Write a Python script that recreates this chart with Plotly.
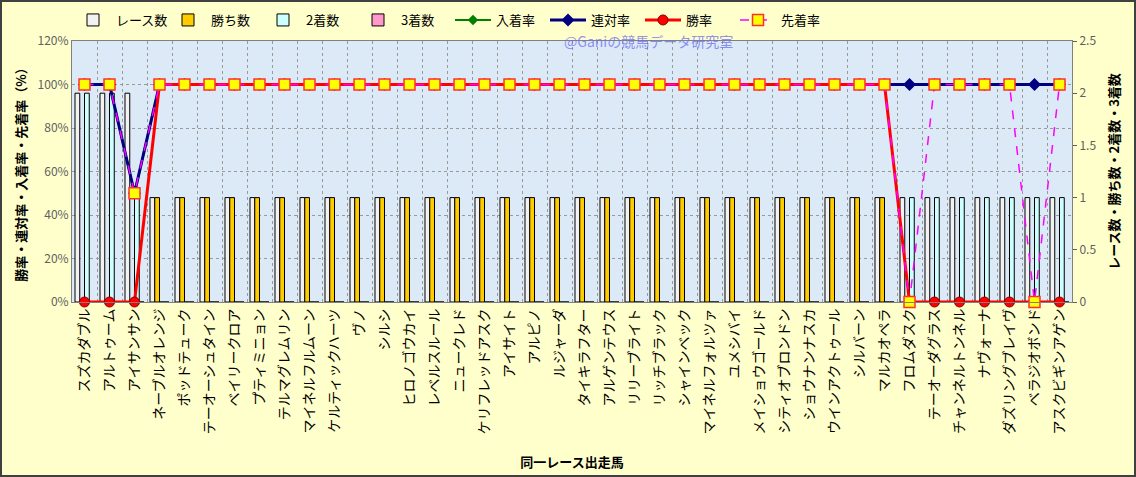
import plotly.graph_objects as go

horses = ["スズカダブル", "アルトゥーム", "アイサンサン", "ネーブルオレンジ", "ポッドテューク",
          "テーオーシュタイン", "ベイリークロア", "プティミニョン", "テルマグレムリン", "マイネルフルムーン",
          "ケルティックハーツ", "ヴノ", "シルシ", "ヒロノゴウカイ", "レベルスルール",
          "ニュークレド", "ケリフレッドアスク", "アイサイト", "アルピノ", "ルジャーダ",
          "タイキラフター", "アルゲンテウス", "リリーブライト", "リッチブラック", "シャインベック",
          "マイネルフォルツァ", "ユメシバイ", "メイショウゴールド", "シティオブロンドン", "ショウナンナスカ",
          "ウインアクトゥール", "シルバーン", "マルカオペラ", "フロムダスク", "テーオーダグラス",
          "チャンネルトンネル", "ナヴォーナ", "ダズリングブレイヴ", "ベラジオボンド", "アスクビギンアゲン"]

races   = [2, 2, 2, 1, 1, 1, 1, 1, 1, 1, 1, 1, 1, 1, 1, 1, 1, 1, 1, 1,
           1, 1, 1, 1, 1, 1, 1, 1, 1, 1, 1, 1, 1, 1, 1, 1, 1, 1, 1, 1]
wins    = [0, 0, 0, 1, 1, 1, 1, 1, 1, 1, 1, 1, 1, 1, 1, 1, 1, 1, 1, 1,
           1, 1, 1, 1, 1, 1, 1, 1, 1, 1, 1, 1, 1, 0, 0, 0, 0, 0, 0, 0]
seconds = [2, 2, 1, 0, 0, 0, 0, 0, 0, 0, 0, 0, 0, 0, 0, 0, 0, 0, 0, 0,
           0, 0, 0, 0, 0, 0, 0, 0, 0, 0, 0, 0, 0, 1, 1, 1, 1, 1, 1, 1]
thirds  = [0, 0, 0, 0, 0, 0, 0, 0, 0, 0, 0, 0, 0, 0, 0, 0, 0, 0, 0, 0,
           0, 0, 0, 0, 0, 0, 0, 0, 0, 0, 0, 0, 0, 0, 0, 0, 0, 0, 0, 0]

place_rate  = [100, 100, 50, 100, 100, 100, 100, 100, 100, 100, 100, 100, 100, 100, 100, 100, 100, 100, 100, 100,
               100, 100, 100, 100, 100, 100, 100, 100, 100, 100, 100, 100, 100, 100, 100, 100, 100, 100, 100, 100]
rentai_rate = [100, 100, 50, 100, 100, 100, 100, 100, 100, 100, 100, 100, 100, 100, 100, 100, 100, 100, 100, 100,
               100, 100, 100, 100, 100, 100, 100, 100, 100, 100, 100, 100, 100, 100, 100, 100, 100, 100, 100, 100]
win_rate    = [0, 0, 0, 100, 100, 100, 100, 100, 100, 100, 100, 100, 100, 100, 100, 100, 100, 100, 100, 100,
               100, 100, 100, 100, 100, 100, 100, 100, 100, 100, 100, 100, 100, 0, 0, 0, 0, 0, 0, 0]
ahead_rate  = [100, 100, 50, 100, 100, 100, 100, 100, 100, 100, 100, 100, 100, 100, 100, 100, 100, 100, 100, 100,
               100, 100, 100, 100, 100, 100, 100, 100, 100, 100, 100, 100, 100, 0, 100, 100, 100, 100, 0, 100]

xs = list(range(len(horses)))
FONT = "Noto Sans CJK JP"

fig = go.Figure()
bar_line = dict(color="#000000", width=1)
fig.add_trace(go.Bar(x=xs, y=races, name="レース数", marker=dict(color="#F2F2F2", line=bar_line), yaxis="y"))
fig.add_trace(go.Bar(x=xs, y=wins, name="勝ち数", marker=dict(color="#FFCC00", line=bar_line), yaxis="y"))
fig.add_trace(go.Bar(x=xs, y=seconds, name="2着数", marker=dict(color="#CCFFFF", line=bar_line), yaxis="y"))
fig.add_trace(go.Bar(x=xs, y=thirds, name="3着数", marker=dict(color="#FF99CC", line=bar_line), yaxis="y"))

fig.add_trace(go.Scatter(x=xs, y=place_rate, name="入着率", mode="lines+markers", yaxis="y2",
                         line=dict(color="#008000", width=2),
                         marker=dict(symbol="diamond", size=8, color="#008000"), cliponaxis=False))
fig.add_trace(go.Scatter(x=xs, y=rentai_rate, name="連対率", mode="lines+markers", yaxis="y2",
                         line=dict(color="#000080", width=3),
                         marker=dict(symbol="diamond", size=10, color="#000080"), cliponaxis=False))
fig.add_trace(go.Scatter(x=xs, y=win_rate, name="勝率", mode="lines+markers", yaxis="y2",
                         line=dict(color="#FF0000", width=3),
                         marker=dict(symbol="circle", size=10, color="#FF0000",
                                     line=dict(color="#800000", width=1)), cliponaxis=False))
fig.add_trace(go.Scatter(x=xs, y=ahead_rate, name="先着率", mode="lines+markers", yaxis="y2",
                         line=dict(color="#FF00FF", width=1.5, dash="dash"),
                         marker=dict(symbol="square", size=11, color="#FFFF00",
                                     line=dict(color="#FF3030", width=1.5)), cliponaxis=False))

fig.update_layout(
    width=1136, height=477,
    margin=dict(l=72, r=64, t=41, b=175, autoexpand=False),
    paper_bgcolor="#FFFFCC",
    plot_bgcolor="#DCE9F7",
    font=dict(family=FONT, size=12, color="#000000"),
    barmode="group", bargap=0.24, bargroupgap=0.0,
    showlegend=True,
    legend=dict(orientation="h", x=-0.002, y=1 + 36/261, xanchor="left", yanchor="top",
                bgcolor="rgba(0,0,0,0)", font=dict(size=13, family=FONT),
                entrywidth=44, entrywidthmode="pixels", traceorder="normal",
                itemwidth=36),
    xaxis=dict(
        range=[-0.5, len(horses) - 0.5],
        tickmode="array", tickvals=xs, ticktext=horses, tickangle=-90,
        tickfont=dict(size=14, family=FONT, color="#000000"),
        showgrid=False, ticks="", showline=True, linecolor="#808080", mirror=True,
        minor=dict(tickmode="linear", tick0=0.5, dtick=1, showgrid=True,
                   gridcolor="#9A9A9A", griddash="dot", gridwidth=1, ticks=""),
        title=dict(text="<b>同一レース出走馬</b>", font=dict(size=13, family=FONT), standoff=24),
        zeroline=False,
    ),
    yaxis=dict(
        side="right", range=[0, 2.5], dtick=0.5, tick0=0,
        showgrid=False, zeroline=False, ticks="outside", ticklen=4, tickcolor="#606060",
        tickfont=dict(size=12, color="#606060"),
        showline=True, linecolor="#808080",
        title=dict(text="<b>レース数・勝ち数・2着数・3着数</b>", font=dict(size=13, family=FONT), standoff=14),
    ),
    yaxis2=dict(
        side="left", overlaying="y", range=[0, 120], dtick=20, tick0=0, ticksuffix="%",
        showgrid=True, gridcolor="#9A9A9A", griddash="dot", gridwidth=1,
        zeroline=False, ticks="", tickfont=dict(size=12, color="#606060"),
        showline=True, linecolor="#808080",
        title=dict(text="<b>勝率・連対率・入着率・先着率（%）</b>", font=dict(size=13, family=FONT), standoff=8),
    ),
    annotations=[dict(text="@Ganiの競馬データ研究室", xref="paper", yref="paper", x=0.576, y=1.0,
                      xanchor="center", yanchor="middle", showarrow=False,
                      font=dict(size=14, family=FONT, color="rgba(110,110,240,0.75)"))],
    shapes=[dict(type="rect", xref="paper", yref="paper",
                 x0=-71/1000, x1=1 + 63/1000, y0=-174/261, y1=1 + 40/261,
                 line=dict(color="#404040", width=2), fillcolor="rgba(0,0,0,0)", layer="above")],
)

fig.write_html("out.html", config={"displayModeBar": False},
               post_script="document.body.style.margin='0';")
